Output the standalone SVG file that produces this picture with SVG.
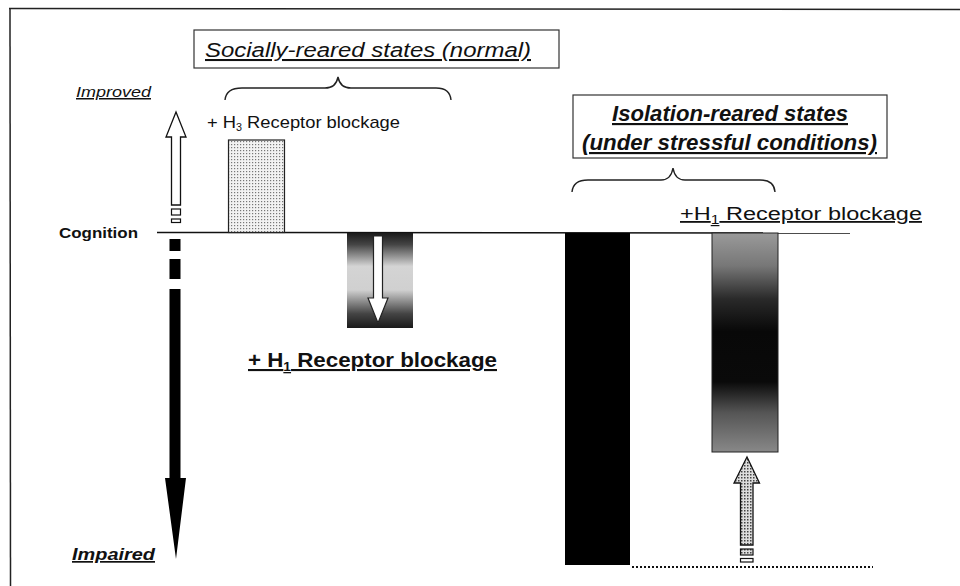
<svg xmlns="http://www.w3.org/2000/svg" width="960" height="586" viewBox="0 0 960 586">
<style>
.t{font-family:"Liberation Sans",Arial,sans-serif;fill:#111}
.u{text-decoration:underline}
.frame{stroke:#222;stroke-width:1.5;fill:none}
.box{fill:#fff;stroke:#333;stroke-width:1.2}
.brace{fill:none;stroke:#222;stroke-width:1.4}
</style>
<defs>
<pattern id="dots" width="3" height="3" patternUnits="userSpaceOnUse">
<rect width="3" height="3" fill="#f2f2f2"/>
<rect x="0" y="0" width="1.2" height="1.2" fill="#777"/>
</pattern>
<pattern id="dots2" width="3" height="3" patternUnits="userSpaceOnUse">
<rect width="3" height="3" fill="#ddd"/>
<rect x="0" y="0" width="1.5" height="1.5" fill="#444"/>
</pattern>
<linearGradient id="g1" x1="0" y1="0" x2="0" y2="1">
<stop offset="0" stop-color="#1a1a1a"/>
<stop offset="0.12" stop-color="#444"/>
<stop offset="0.35" stop-color="#d4d4d4"/>
<stop offset="0.6" stop-color="#d0d0d0"/>
<stop offset="0.85" stop-color="#444"/>
<stop offset="1" stop-color="#1a1a1a"/>
</linearGradient>
<linearGradient id="g2" x1="0" y1="0" x2="0" y2="1">
<stop offset="0" stop-color="#9a9a9a"/>
<stop offset="0.15" stop-color="#777"/>
<stop offset="0.3" stop-color="#2a2a2a"/>
<stop offset="0.45" stop-color="#080808"/>
<stop offset="0.68" stop-color="#0a0a0a"/>
<stop offset="0.82" stop-color="#555"/>
<stop offset="1" stop-color="#888"/>
</linearGradient>
</defs>
<rect width="960" height="586" fill="#fff"/>

<g id="frame">
<line class="frame" x1="9" y1="8.5" x2="960" y2="9.5"/>
<line class="frame" x1="10" y1="8" x2="10.5" y2="586"/>
</g>

<g id="social-label">
<rect class="box" x="194" y="30" width="365" height="38"/>
<text class="t u" x="205" y="57" font-size="20.5" font-style="italic" textLength="326" lengthAdjust="spacingAndGlyphs">Socially-reared states (normal)</text>
</g>
<g id="social-brace">
<path class="brace" d="M225,100 Q226,88 242,88 L325,88 Q336,88 338,77 Q340,88 351,88 L436,88 Q450,88 451,100"/>
</g>

<g id="isolation-label">
<rect class="box" x="573" y="95" width="314" height="63"/>
<text class="t u" x="612" y="121" font-size="21.5" font-weight="bold" font-style="italic" textLength="236" lengthAdjust="spacingAndGlyphs">Isolation-reared states</text>
<text class="t u" x="582" y="150" font-size="21.5" font-weight="bold" font-style="italic" textLength="295" lengthAdjust="spacingAndGlyphs">(under stressful conditions)</text>
</g>
<g id="isolation-brace">
<path class="brace" d="M572,192 Q573,180 588,180 L661,180 Q671,180 673,168 Q675,180 685,180 L760,180 Q774,180 775,192"/>
</g>

<g id="axis">
<text class="t u" x="76" y="97" font-size="15" font-style="italic" textLength="75" lengthAdjust="spacingAndGlyphs">Improved</text>
<text class="t" x="59" y="238" font-size="15" font-weight="bold" textLength="79" lengthAdjust="spacingAndGlyphs">Cognition</text>
<text class="t u" x="72" y="560" font-size="17" font-weight="bold" font-style="italic" textLength="83" lengthAdjust="spacingAndGlyphs">Impaired</text>
<line x1="157" y1="232.5" x2="850" y2="233" stroke="#111" stroke-width="1.5"/>
</g>

<g id="improve-arrow">
<path d="M176,112 L186,137 L180.5,137 L180.5,205 L171.5,205 L171.5,137 L166,137 Z" fill="#fff" stroke="#111" stroke-width="1.3"/>
<rect x="171.5" y="209" width="9" height="6" fill="#fff" stroke="#111" stroke-width="1.2"/>
<rect x="171.5" y="219" width="9" height="3.5" fill="#fff" stroke="#111" stroke-width="1.2"/>
</g>

<g id="impair-arrow">
<rect x="169.5" y="239" width="11" height="12" fill="#000"/>
<rect x="169.5" y="259" width="11" height="20" fill="#000"/>
<path d="M169.5,289 L180.5,289 L180.5,478 L186,478 L176,559 L165,478 L169.5,478 Z" fill="#000"/>
</g>

<g id="bar-h3">
<text class="t" x="207" y="128" font-size="17" textLength="193" lengthAdjust="spacingAndGlyphs">+ H<tspan font-size="10" dy="3">3</tspan><tspan dy="-3"> Receptor blockage</tspan></text>
<rect x="228.5" y="140" width="56" height="92.5" fill="url(#dots)" stroke="#222" stroke-width="1.2"/>
</g>

<g id="bar-h1-social">
<rect x="347" y="233" width="66" height="95" fill="url(#g1)"/>
<path d="M373.5,236 L382.5,236 L382.5,298 L388,298 L378,323 L368,298 L373.5,298 Z" fill="#fff" stroke="#222" stroke-width="1.2"/>
<text class="t u" x="248" y="367" font-size="21" font-weight="bold" textLength="249" lengthAdjust="spacingAndGlyphs">+ H<tspan font-size="13" dy="4">1</tspan><tspan dy="-4"> Receptor blockage</tspan></text>
</g>

<g id="bar-isolation">
<rect x="565" y="233" width="65" height="332" fill="#000"/>
</g>

<g id="bar-h1-isolation">
<text class="t u" x="680" y="220" font-size="18" textLength="242" lengthAdjust="spacingAndGlyphs">+H<tspan font-size="12" dy="4">1</tspan><tspan dy="-4"> Receptor blockage</tspan></text>
<rect x="712" y="233" width="66" height="219" fill="url(#g2)" stroke="#222" stroke-width="1"/>
</g>

<g id="recover-arrow">
<path d="M747,457 L759.5,483 L753,483 L753,545 L740.5,545 L740.5,483 L734,483 Z" fill="url(#dots2)" stroke="#111" stroke-width="1.3"/>
<rect x="740.5" y="549" width="12.5" height="6" fill="url(#dots2)" stroke="#111" stroke-width="1.2"/>
<rect x="740.5" y="558.5" width="12.5" height="3.5" fill="#fff" stroke="#111" stroke-width="1.2"/>
</g>

<g id="connectors">
<line x1="632" y1="567" x2="873" y2="567" stroke="#111" stroke-width="2" stroke-dasharray="2,2"/>
</g>
</svg>
